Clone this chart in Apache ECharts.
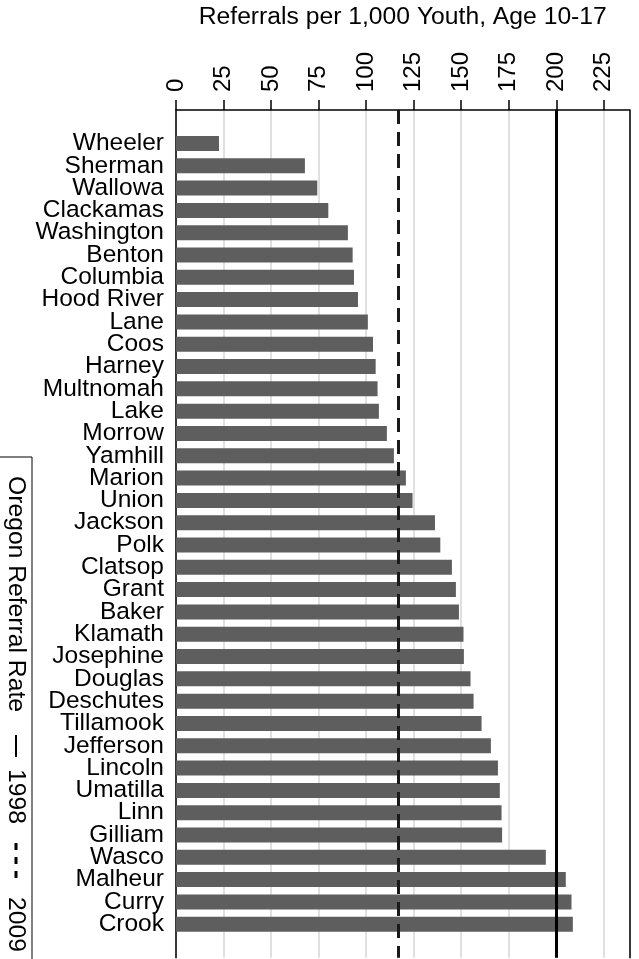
<!DOCTYPE html>
<html>
<head>
<meta charset="utf-8">
<script src="https://cdn.jsdelivr.net/npm/echarts@6/dist/echarts.min.js"></script>
<style>html,body{margin:0;padding:0;background:#fff;}#c{width:639px;height:959px;}</style>
</head>
<body>
<div id="c"></div>
<script>
var counties = ['Wheeler','Sherman','Wallowa','Clackamas','Washington','Benton','Columbia','Hood River','Lane','Coos','Harney','Multnomah','Lake','Morrow','Yamhill','Marion','Union','Jackson','Polk','Clatsop','Grant','Baker','Klamath','Josephine','Douglas','Deschutes','Tillamook','Jefferson','Lincoln','Umatilla','Linn','Gilliam','Wasco','Malheur','Curry','Crook'];
var rates = [22.6,67.8,74.3,80.1,90.4,92.9,93.6,95.7,100.9,103.6,105.0,106.0,106.7,110.9,114.6,120.9,124.4,136.2,139.0,145.1,147.2,148.8,151.2,151.4,154.9,156.5,160.7,165.6,169.3,170.3,171.2,171.5,194.5,205.0,208.0,208.7];
var tickValues = [0,25,50,75,100,125,150,175,200,225];
var rate1998 = 200;
var rate2009 = 117;
var axisTitle = 'Referrals per 1,000 Youth, Age 10-17';

var FONT = 'Liberation Sans, Arial, Helvetica, sans-serif';
var cats = [''].concat(counties).concat([' ']);
var vals = ['-'].concat(rates).concat(['-']);

var chart = echarts.init(document.getElementById('c'));
chart.setOption({
  animation: false,
  backgroundColor: '#fff',
  grid: {left: 176, right: 9.5, top: 107.5, bottom: 1, containLabel: false},
  xAxis: {
    type: 'value', position: 'top', min: 0, max: 238.5, interval: 25,
    name: axisTitle, nameLocation: 'middle', nameGap: 80,
    nameTextStyle: {fontFamily: FONT, fontSize: 24.7, color: '#000'},
    axisLine: {show: true, lineStyle: {color: '#000', width: 1.5}},
    axisTick: {show: true, length: 10, inside: false, lineStyle: {color: '#000', width: 1.5}},
    axisLabel: {rotate: -90, margin: 18, fontFamily: FONT, fontSize: 24, color: '#000', showMaxLabel: false,
      formatter: function (v) { return tickValues.indexOf(v) >= 0 ? String(v) : ''; }},
    splitLine: {show: true, lineStyle: {color: '#e0e0e0', width: 2}}
  },
  yAxis: [{
    type: 'category', data: cats, inverse: true,
    axisLine: {show: true, onZero: false, lineStyle: {color: '#000', width: 1.5}},
    axisTick: {show: false},
    axisLabel: {margin: 12, fontFamily: FONT, fontSize: 24.5, color: '#000', interval: 0},
    splitLine: {show: false}
  }, {
    type: 'category', data: cats, inverse: true, position: 'right',
    axisLine: {show: true, onZero: false, lineStyle: {color: '#000', width: 1.5}},
    axisTick: {show: false}, axisLabel: {show: false}, splitLine: {show: false}
  }],
  series: [{
    type: 'bar', data: vals, barWidth: 15, yAxisIndex: 0,
    itemStyle: {color: '#5e5e5e'},
    markLine: {
      silent: true, symbol: 'none', label: {show: false},
      data: [
        {xAxis: rate1998, lineStyle: {color: '#000', width: 3, type: 'solid'}},
        {xAxis: rate2009, lineStyle: {color: '#1a1a1a', width: 3, type: [14, 8]}}
      ]
    }
  }],
  graphic: [
    {type: 'rect', shape: {x: -2, y: 457, width: 34, height: 520}, style: {fill: 'none', stroke: '#000', lineWidth: 1}},
    {type: 'group', x: 16, y: 0, rotation: -Math.PI / 2, children: [
      {type: 'text', x: 476, y: 0, style: {text: 'Oregon Referral Rate', fontFamily: FONT, fontSize: 24.7, fill: '#000', textAlign: 'left', textVerticalAlign: 'middle'}},
      {type: 'line', shape: {x1: 735, y1: 0, x2: 757, y2: 0}, style: {stroke: '#000', lineWidth: 2}},
      {type: 'text', x: 769, y: 0, style: {text: '1998', fontFamily: FONT, fontSize: 24.7, fill: '#000', textAlign: 'left', textVerticalAlign: 'middle'}},
      {type: 'line', shape: {x1: 843, y1: 0, x2: 884, y2: 0}, style: {stroke: '#000', lineWidth: 3, lineDash: [7, 7]}},
      {type: 'text', x: 897, y: 0, style: {text: '2009', fontFamily: FONT, fontSize: 24.7, fill: '#000', textAlign: 'left', textVerticalAlign: 'middle'}}
    ]}
  ]
});
</script>
</body>
</html>
